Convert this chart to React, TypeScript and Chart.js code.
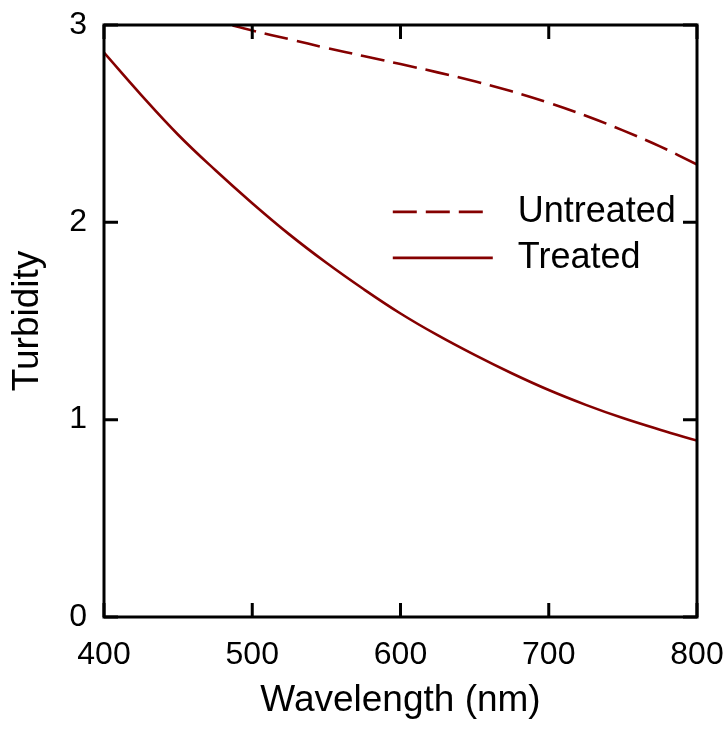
import React, { useEffect, useRef } from "react";
import { Chart, registerables } from "chart.js";

Chart.register(...registerables);

const wavelengths = [400, 425, 450, 475, 500, 525, 550, 575, 600, 625, 650, 675, 700, 725, 750, 775, 800];
const untreated = [3.15, 3.105, 3.062, 3.02, 2.972, 2.928, 2.884, 2.843, 2.802, 2.76, 2.715, 2.664, 2.606, 2.54, 2.466, 2.385, 2.293];
const treated = [2.86, 2.646, 2.444, 2.265, 2.097, 1.939, 1.795, 1.662, 1.538, 1.428, 1.328, 1.235, 1.15, 1.075, 1.008, 0.949, 0.894];
const seriesLabels = ["Untreated", "Treated"];
const xTitle = "Wavelength (nm)";
const yTitle = "Turbidity";

const LINE_COLOR = "#850000";
const FONT = "'Liberation Sans', Arial, sans-serif";

const framePlugin = {
  id: "frameTicks",
  afterDraw(chart: any) {
    const { ctx, chartArea: a, scales } = chart;
    const x = scales.x;
    const y = scales.y;
    const len = 14;
    ctx.save();
    ctx.strokeStyle = "#000";
    ctx.lineWidth = 3;
    ctx.lineCap = "butt";
    ctx.beginPath();
    x.ticks.forEach((t: any) => {
      const px = x.getPixelForValue(t.value);
      ctx.moveTo(px, a.bottom);
      ctx.lineTo(px, a.bottom - len);
      ctx.moveTo(px, a.top);
      ctx.lineTo(px, a.top + len);
    });
    y.ticks.forEach((t: any) => {
      const py = y.getPixelForValue(t.value);
      ctx.moveTo(a.left, py);
      ctx.lineTo(a.left + len, py);
      ctx.moveTo(a.right, py);
      ctx.lineTo(a.right - len, py);
    });
    ctx.stroke();
    ctx.lineJoin = "miter";
    ctx.strokeRect(a.left, a.top, a.right - a.left, a.bottom - a.top);

    // legend
    const lx0 = a.left + (a.right - a.left) * 0.487;
    const lineLen = 100;
    const textX = lx0 + 125;
    const rows = [y.getPixelForValue(2.053), y.getPixelForValue(1.82)];
    ctx.font = `36px ${FONT}`;
    ctx.textBaseline = "middle";
    ctx.textAlign = "left";
    chart.data.datasets.forEach((ds: any, i: number) => {
      const ly = rows[i];
      ctx.strokeStyle = ds.borderColor;
      ctx.lineWidth = ds.borderWidth;
      const dash = ds.borderDash || [];
      ctx.setLineDash(dash);
      let L = lineLen;
      if (dash.length === 2) {
        const period = dash[0] + dash[1];
        L = Math.floor((lineLen + dash[1]) / period) * period - dash[1];
      }
      ctx.beginPath();
      ctx.moveTo(lx0, ly);
      ctx.lineTo(lx0 + L, ly);
      ctx.stroke();
      ctx.setLineDash([]);
      ctx.fillStyle = "#000";
      ctx.fillText(ds.label, textX, ly);
    });
    ctx.restore();
  },
};

export default function App() {
  const ref = useRef<HTMLCanvasElement | null>(null);
  useEffect(() => {
    document.body.style.margin = "0";
    const canvas = ref.current!;
    const chart = new Chart(canvas, {
      type: "line",
      data: {
        datasets: [
          {
            label: seriesLabels[0],
            data: wavelengths.map((w, i) => ({ x: w, y: untreated[i] })),
            borderColor: LINE_COLOR,
            borderWidth: 2.6,
            borderDash: [24, 9],
            pointRadius: 0,
            tension: 0.4,
            fill: false,
          },
          {
            label: seriesLabels[1],
            data: wavelengths.map((w, i) => ({ x: w, y: treated[i] })),
            borderColor: LINE_COLOR,
            borderWidth: 2.6,
            pointRadius: 0,
            tension: 0.4,
            fill: false,
          },
        ],
      },
      options: {
        responsive: false,
        animation: false,
        layout: { padding: { left: 0, right: 31, top: 25, bottom: 0 } },
        plugins: { legend: { display: false }, tooltip: { enabled: false } },
        scales: {
          x: {
            type: "linear",
            min: 400,
            max: 800,
            afterFit: (s: any) => {
              s.height = 112;
              s.paddingLeft = 0;
              s.paddingRight = 0;
            },
            grid: { display: false, drawTicks: false },
            border: { display: false },
            ticks: {
              stepSize: 100,
              padding: 19,
              color: "#000",
              font: { family: FONT, size: 32 },
              maxRotation: 0,
            },
            title: {
              display: true,
              text: xTitle,
              color: "#000",
              font: { family: FONT, size: 37 },
              padding: { top: 0, bottom: 6 },
            },
          },
          y: {
            type: "linear",
            min: 0,
            max: 3,
            afterFit: (s: any) => {
              s.width = 104;
              s.paddingTop = 0;
              s.paddingBottom = 0;
            },
            grid: { display: false, drawTicks: false },
            border: { display: false },
            ticks: {
              stepSize: 1,
              padding: 17,
              color: "#000",
              font: { family: FONT, size: 32 },
            },
            title: {
              display: true,
              text: yTitle,
              color: "#000",
              font: { family: FONT, size: 37 },
              padding: { top: 6, bottom: 0 },
            },
          },
        },
      },
      plugins: [framePlugin],
    });
    return () => chart.destroy();
  }, []);
  return (
    <div style={{ position: "fixed", left: 0, top: 0 }}>
      <canvas ref={ref} width={728} height={729} style={{ display: "block" }} />
    </div>
  );
}
